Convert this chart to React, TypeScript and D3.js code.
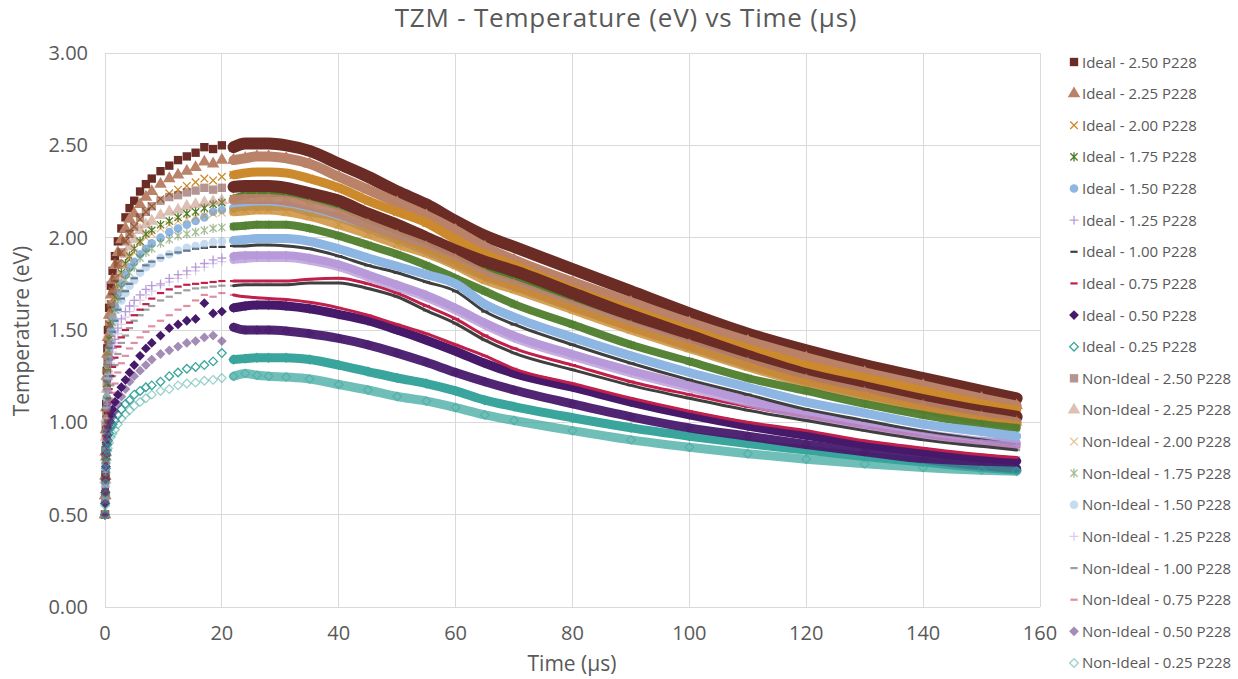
import React, { useEffect, useRef } from 'react';
import * as d3 from 'd3';

// Time grid (µs) shared by every series
const TIME = [0, 0.03, 0.06, 0.1, 0.15, 0.2, 0.3, 0.4, 0.5, 0.7, 1, 1.3, 1.7, 2.2, 2.8, 3.5, 4.2, 5, 6, 7, 8,
  9.5, 11, 12.5, 14, 15.5, 17, 18.5, 20, 22, 24, 26, 28,
  31, 35, 40, 45, 50, 55, 60, 65, 70, 80, 90, 100, 110, 120, 130, 140, 150, 156];

const X_TICKS = [0, 20, 40, 60, 80, 100, 120, 140, 160];
const Y_TICKS = [0, 0.5, 1, 1.5, 2, 2.5, 3];

const SERIES_NAMES = [
  'Ideal - 2.50 P228', 'Ideal - 2.25 P228', 'Ideal - 2.00 P228', 'Ideal - 1.75 P228', 'Ideal - 1.50 P228',
  'Ideal - 1.25 P228', 'Ideal - 1.00 P228', 'Ideal - 0.75 P228', 'Ideal - 0.50 P228', 'Ideal - 0.25 P228',
  'Non-Ideal - 2.50 P228', 'Non-Ideal - 2.25 P228', 'Non-Ideal - 2.00 P228', 'Non-Ideal - 1.75 P228', 'Non-Ideal - 1.50 P228',
  'Non-Ideal - 1.25 P228', 'Non-Ideal - 1.00 P228', 'Non-Ideal - 0.75 P228', 'Non-Ideal - 0.50 P228', 'Non-Ideal - 0.25 P228',
];

const I250 = [0.50, 0.61, 0.72, 0.85, 0.98, 1.10, 1.28, 1.40, 1.50, 1.62, 1.74, 1.82, 1.90, 1.98, 2.05, 2.11, 2.16, 2.20, 2.25, 2.29, 2.32,
  2.36, 2.39, 2.42, 2.44, 2.46, 2.49, 2.48, 2.50, 2.49, 2.51, 2.51, 2.51,
  2.50, 2.47, 2.40, 2.33, 2.25, 2.18, 2.09, 2.01, 1.95, 1.83, 1.71, 1.59, 1.48, 1.39, 1.31, 1.24, 1.17, 1.13];
const I225 = [0.50, 0.605, 0.71, 0.84, 0.96, 1.08, 1.25, 1.37, 1.46, 1.58, 1.69, 1.77, 1.85, 1.92, 1.99, 2.05, 2.10, 2.13, 2.18, 2.22, 2.25,
  2.29, 2.32, 2.34, 2.36, 2.38, 2.41, 2.40, 2.42, 2.42, 2.43, 2.44, 2.44,
  2.43, 2.40, 2.33, 2.26, 2.19, 2.12, 2.04, 1.95, 1.88, 1.76, 1.65, 1.54, 1.44, 1.35, 1.27, 1.20, 1.13, 1.09];
const I200 = [0.50, 0.60, 0.70, 0.82, 0.94, 1.05, 1.21, 1.33, 1.42, 1.53, 1.64, 1.71, 1.78, 1.86, 1.92, 1.98, 2.02, 2.06, 2.10, 2.14, 2.17,
  2.21, 2.24, 2.26, 2.28, 2.30, 2.32, 2.31, 2.33, 2.34, 2.35, 2.355, 2.355,
  2.35, 2.32, 2.27, 2.20, 2.14, 2.08, 1.99, 1.91, 1.85, 1.72, 1.61, 1.50, 1.40, 1.31, 1.24, 1.17, 1.10, 1.065];
const I175 = [0.50, 0.59, 0.69, 0.80, 0.91, 1.01, 1.16, 1.26, 1.35, 1.45, 1.55, 1.62, 1.68, 1.75, 1.81, 1.86, 1.90, 1.94, 1.98, 2.02, 2.04,
  2.07, 2.09, 2.11, 2.13, 2.14, 2.16, 2.18, 2.19, 2.21, 2.23, 2.24, 2.24,
  2.24, 2.21, 2.17, 2.10, 2.04, 1.97, 1.90, 1.835, 1.78, 1.665, 1.55, 1.44, 1.335, 1.24, 1.17, 1.10, 1.04, 1.01];
const I150 = [0.50, 0.59, 0.68, 0.78, 0.89, 0.99, 1.13, 1.23, 1.31, 1.40, 1.50, 1.57, 1.63, 1.70, 1.75, 1.80, 1.84, 1.87, 1.91, 1.94, 1.97,
  2.00, 2.03, 2.05, 2.07, 2.09, 2.11, 2.14, 2.15, 2.16, 2.17, 2.17, 2.17,
  2.17, 2.14, 2.11, 2.05, 1.99, 1.93, 1.86, 1.79, 1.735, 1.625, 1.515, 1.41, 1.31, 1.22, 1.15, 1.085, 1.03, 1.00];
const I125 = [0.50, 0.57, 0.65, 0.74, 0.83, 0.91, 1.03, 1.11, 1.18, 1.26, 1.34, 1.40, 1.45, 1.51, 1.56, 1.60, 1.63, 1.66, 1.69, 1.72, 1.74,
  1.75, 1.78, 1.80, 1.82, 1.84, 1.86, 1.88, 1.89, 1.90, 1.905, 1.905, 1.905,
  1.905, 1.89, 1.855, 1.80, 1.745, 1.69, 1.62, 1.54, 1.47, 1.37, 1.28, 1.20, 1.12, 1.05, 0.99, 0.94, 0.90, 0.89];
const I100 = [0.50, 0.58, 0.67, 0.76, 0.86, 0.95, 1.09, 1.18, 1.25, 1.34, 1.43, 1.49, 1.55, 1.61, 1.67, 1.71, 1.75, 1.78, 1.82, 1.85, 1.87,
  1.89, 1.91, 1.92, 1.93, 1.94, 1.945, 1.95, 1.95, 1.955, 1.955, 1.96, 1.96,
  1.955, 1.94, 1.90, 1.85, 1.81, 1.76, 1.71, 1.60, 1.53, 1.42, 1.32, 1.23, 1.15, 1.07, 1.01, 0.95, 0.905, 0.88];
const I075 = [0.50, 0.57, 0.64, 0.72, 0.81, 0.89, 0.98, 1.05, 1.10, 1.18, 1.25, 1.30, 1.35, 1.41, 1.46, 1.50, 1.54, 1.58, 1.61, 1.64, 1.67,
  1.70, 1.72, 1.735, 1.745, 1.75, 1.755, 1.76, 1.765, 1.765, 1.765, 1.765, 1.765,
  1.765, 1.775, 1.78, 1.75, 1.70, 1.63, 1.56, 1.47, 1.40, 1.31, 1.22, 1.15, 1.085, 1.03, 0.975, 0.925, 0.885, 0.865];
const I050 = [0.50, 0.56, 0.62, 0.69, 0.76, 0.82, 0.89, 0.93, 0.96, 1.00, 1.04, 1.07, 1.11, 1.15, 1.19, 1.23, 1.27, 1.31, 1.36, 1.40, 1.43,
  1.47, 1.51, 1.53, 1.55, 1.56, 1.645, 1.59, 1.60, 1.62, 1.63, 1.635, 1.635,
  1.63, 1.615, 1.585, 1.55, 1.50, 1.445, 1.385, 1.32, 1.265, 1.19, 1.11, 1.04, 0.98, 0.93, 0.88, 0.84, 0.805, 0.79];
const I025 = [0.50, 0.56, 0.62, 0.69, 0.75, 0.80, 0.85, 0.88, 0.90, 0.94, 0.97, 0.99, 1.01, 1.04, 1.07, 1.10, 1.12, 1.15, 1.17, 1.19, 1.20,
  1.22, 1.25, 1.27, 1.29, 1.30, 1.31, 1.33, 1.375, 1.34, 1.345, 1.35, 1.35,
  1.35, 1.34, 1.31, 1.275, 1.24, 1.21, 1.17, 1.12, 1.085, 1.025, 0.97, 0.925, 0.885, 0.85, 0.815, 0.785, 0.755, 0.74];

const N250 = [0.50, 0.60, 0.70, 0.82, 0.94, 1.05, 1.21, 1.33, 1.42, 1.53, 1.64, 1.71, 1.78, 1.86, 1.92, 1.98, 2.02, 2.06, 2.11, 2.14, 2.17,
  2.20, 2.22, 2.23, 2.245, 2.255, 2.27, 2.26, 2.27, 2.275, 2.28, 2.28, 2.28,
  2.27, 2.24, 2.20, 2.13, 2.07, 2.00, 1.93, 1.87, 1.82, 1.70, 1.58, 1.47, 1.36, 1.26, 1.19, 1.12, 1.06, 1.03];
const N225 = [0.50, 0.60, 0.69, 0.81, 0.92, 1.02, 1.18, 1.29, 1.37, 1.48, 1.58, 1.65, 1.72, 1.79, 1.85, 1.91, 1.95, 1.99, 2.04, 2.07, 2.09,
  2.12, 2.14, 2.15, 2.17, 2.18, 2.19, 2.195, 2.20, 2.205, 2.21, 2.21, 2.21,
  2.20, 2.175, 2.13, 2.07, 2.01, 1.95, 1.88, 1.80, 1.745, 1.63, 1.52, 1.42, 1.32, 1.23, 1.16, 1.09, 1.03, 1.00];
const N200 = [0.50, 0.59, 0.68, 0.79, 0.90, 1.00, 1.15, 1.25, 1.33, 1.43, 1.54, 1.60, 1.67, 1.74, 1.80, 1.85, 1.89, 1.92, 1.97, 2.00, 2.02,
  2.05, 2.07, 2.09, 2.10, 2.11, 2.12, 2.13, 2.135, 2.14, 2.145, 2.15, 2.15,
  2.14, 2.115, 2.07, 2.02, 1.965, 1.915, 1.85, 1.77, 1.72, 1.61, 1.50, 1.40, 1.30, 1.21, 1.14, 1.07, 1.01, 0.985];
const N175 = [0.50, 0.59, 0.67, 0.78, 0.88, 0.98, 1.12, 1.21, 1.29, 1.39, 1.48, 1.54, 1.61, 1.67, 1.73, 1.77, 1.81, 1.84, 1.89, 1.92, 1.94,
  1.97, 1.99, 2.01, 2.02, 2.03, 2.04, 2.05, 2.055, 2.06, 2.065, 2.07, 2.07,
  2.07, 2.05, 2.01, 1.96, 1.91, 1.85, 1.78, 1.71, 1.64, 1.53, 1.42, 1.33, 1.24, 1.17, 1.10, 1.04, 0.99, 0.97];
const N150 = [0.50, 0.58, 0.66, 0.76, 0.86, 0.95, 1.08, 1.17, 1.25, 1.34, 1.43, 1.49, 1.55, 1.61, 1.66, 1.70, 1.74, 1.77, 1.81, 1.84, 1.86,
  1.89, 1.91, 1.93, 1.945, 1.955, 1.965, 1.975, 1.98, 1.985, 1.99, 1.995, 1.995,
  1.995, 1.98, 1.94, 1.89, 1.845, 1.80, 1.75, 1.64, 1.57, 1.46, 1.36, 1.27, 1.19, 1.11, 1.05, 0.99, 0.95, 0.925];
const N125 = [0.50, 0.57, 0.65, 0.73, 0.82, 0.90, 1.02, 1.10, 1.16, 1.24, 1.32, 1.38, 1.43, 1.48, 1.53, 1.57, 1.60, 1.63, 1.66, 1.69, 1.71,
  1.74, 1.76, 1.78, 1.80, 1.82, 1.84, 1.86, 1.87, 1.88, 1.885, 1.89, 1.89,
  1.89, 1.875, 1.84, 1.785, 1.73, 1.675, 1.605, 1.525, 1.455, 1.355, 1.265, 1.185, 1.105, 1.035, 0.975, 0.925, 0.885, 0.875];
const N100 = [0.50, 0.57, 0.64, 0.71, 0.80, 0.87, 0.95, 1.01, 1.05, 1.13, 1.20, 1.25, 1.31, 1.37, 1.43, 1.47, 1.51, 1.55, 1.58, 1.61, 1.63,
  1.66, 1.68, 1.70, 1.715, 1.725, 1.73, 1.735, 1.74, 1.74, 1.745, 1.745, 1.745,
  1.745, 1.755, 1.755, 1.725, 1.68, 1.605, 1.535, 1.445, 1.375, 1.285, 1.20, 1.13, 1.065, 1.01, 0.955, 0.905, 0.87, 0.85];
const N075 = [0.50, 0.56, 0.63, 0.70, 0.78, 0.85, 0.92, 0.97, 1.00, 1.06, 1.12, 1.16, 1.21, 1.27, 1.32, 1.36, 1.40, 1.43, 1.46, 1.49, 1.52,
  1.55, 1.58, 1.61, 1.63, 1.66, 1.69, 1.68, 1.70, 1.69, 1.68, 1.675, 1.67,
  1.665, 1.65, 1.62, 1.58, 1.53, 1.48, 1.42, 1.36, 1.29, 1.21, 1.13, 1.06, 1.00, 0.955, 0.90, 0.86, 0.825, 0.81];
const N050 = [0.50, 0.56, 0.62, 0.69, 0.76, 0.83, 0.88, 0.91, 0.93, 0.97, 1.00, 1.03, 1.06, 1.10, 1.14, 1.18, 1.22, 1.25, 1.28, 1.31, 1.34,
  1.37, 1.39, 1.41, 1.43, 1.44, 1.46, 1.47, 1.44, 1.515, 1.50, 1.50, 1.50,
  1.495, 1.48, 1.455, 1.42, 1.375, 1.325, 1.27, 1.22, 1.175, 1.10, 1.03, 0.97, 0.925, 0.88, 0.84, 0.80, 0.765, 0.75];
const N025 = [0.50, 0.55, 0.61, 0.67, 0.73, 0.78, 0.82, 0.845, 0.86, 0.89, 0.92, 0.94, 0.96, 0.99, 1.02, 1.045, 1.065, 1.09, 1.11, 1.13, 1.15,
  1.17, 1.18, 1.20, 1.21, 1.215, 1.225, 1.23, 1.24, 1.25, 1.265, 1.255, 1.25,
  1.245, 1.235, 1.205, 1.175, 1.14, 1.115, 1.08, 1.04, 1.01, 0.955, 0.905, 0.865, 0.83, 0.80, 0.775, 0.755, 0.74, 0.735];

const SERIES_VALUES = [I250, I225, I200, I175, I150, I125, I100, I075, I050, I025,
  N250, N225, N200, N175, N150, N125, N100, N075, N050, N025];

const COLORS = ['#6B2C25', '#B98269', '#CC8A2C', '#4E7D2C', '#8EB6E2', '#B89AD9', '#3F3F3F', '#C0204B', '#47196B', '#39A59C'];
const SHAPES = ['square', 'triangle', 'x', 'star', 'circle', 'plus', 'dash', 'dash', 'diamond', 'hollowDiamond'];
const BAND_W: Record<string, number> = { square: 12, triangle: 10, x: 9, star: 8, circle: 9, plus: 8, dash: 3, diamond: 9, hollowDiamond: 9 };
const NON_IDEAL_BAND_OPACITY: Record<string, number> = { square: 1, triangle: 0.92, x: 0.8, star: 0.95, circle: 1, plus: 0.8, dash: 1, diamond: 0.95, hollowDiamond: 0.72 };

const FONT = "'Open Sans', 'DejaVu Sans', sans-serif";
const TEXT = '#595959';

function markerSpec(shape: string, color: string) {
  switch (shape) {
    case 'square': return { d: d3.symbol(d3.symbolSquare, 70)() as string, fill: color, stroke: 'none', sw: 0 };
    case 'triangle': return { d: d3.symbol(d3.symbolTriangle, 68)() as string, fill: color, stroke: 'none', sw: 0 };
    case 'circle': return { d: d3.symbol(d3.symbolCircle, 58)() as string, fill: color, stroke: 'none', sw: 0 };
    case 'diamond': return { d: 'M0,-4.9L4.9,0L0,4.9L-4.9,0Z', fill: color, stroke: 'none', sw: 0 };
    case 'hollowDiamond': return { d: 'M0,-4.3L4.3,0L0,4.3L-4.3,0Z', fill: 'none', stroke: color, sw: 1.3 };
    case 'x': return { d: 'M-3.8,-3.8L3.8,3.8M-3.8,3.8L3.8,-3.8', fill: 'none', stroke: color, sw: 1.3 };
    case 'star': return { d: 'M-3.6,-3.6L3.6,3.6M-3.6,3.6L3.6,-3.6M0,-4.6V4.6', fill: 'none', stroke: color, sw: 1.3 };
    case 'plus': return { d: 'M-4.4,0H4.4M0,-4.4V4.4', fill: 'none', stroke: color, sw: 1.3 };
    default: return { d: 'M-3.6,0H3.6', fill: 'none', stroke: color, sw: 2.2 };
  }
}

export default function App() {
  const ref = useRef<SVGSVGElement>(null);

  useEffect(() => {
    const svg = d3.select(ref.current);
    svg.selectAll('*').remove();

    const x = d3.scaleLinear().domain([0, 160]).range([105, 1040]);
    const y = d3.scaleLinear().domain([0, 3]).range([607, 53]);

    svg.append('rect').attr('width', 1238).attr('height', 679).attr('fill', '#fff');

    // gridlines
    const grid = svg.append('g');
    grid.selectAll('line.h').data(Y_TICKS).join('line')
      .attr('x1', x(0)).attr('x2', x(160))
      .attr('y1', (d) => y(d)).attr('y2', (d) => y(d))
      .attr('stroke', '#D9D9D9').attr('stroke-width', 1).attr('shape-rendering', 'crispEdges');
    grid.selectAll('line.v').data(X_TICKS).join('line')
      .attr('y1', y(0)).attr('y2', y(3))
      .attr('x1', (d) => x(d)).attr('x2', (d) => x(d))
      .attr('stroke', '#D9D9D9').attr('stroke-width', 1).attr('shape-rendering', 'crispEdges');

    // tick labels
    svg.append('g').selectAll('text').data(Y_TICKS).join('text')
      .attr('x', 88).attr('y', (d) => y(d) + 7)
      .attr('text-anchor', 'end').attr('font-family', FONT).attr('font-size', 20).attr('fill', TEXT)
      .text((d) => d3.format('.2f')(d));
    svg.append('g').selectAll('text').data(X_TICKS).join('text')
      .attr('x', (d) => x(d)).attr('y', 640)
      .attr('text-anchor', 'middle').attr('font-family', FONT).attr('font-size', 20).attr('fill', TEXT)
      .text((d) => String(d));

    // axis titles & chart title
    svg.append('text').attr('x', 572).attr('y', 671).attr('text-anchor', 'middle')
      .attr('font-family', FONT).attr('font-size', 21).attr('fill', TEXT).text('Time (µs)');
    svg.append('text').attr('transform', 'translate(29,331) rotate(-90)').attr('text-anchor', 'middle')
      .attr('font-family', FONT).attr('font-size', 21).attr('fill', TEXT).text('Temperature (eV)');
    svg.append('text').attr('x', 626).attr('y', 27).attr('text-anchor', 'middle')
      .attr('font-family', FONT).attr('font-size', 26).attr('letter-spacing', 0.8).attr('fill', TEXT)
      .text('TZM - Temperature (eV) vs Time (µs)');

    // series: dense tail drawn as a band through the points, sparse rise as discrete markers
    const bandStart = TIME.indexOf(22);
    const line = d3.line<number>()
      .x((_, i) => x(TIME[i + bandStart]))
      .y((d) => y(d))
      .curve(d3.curveMonotoneX);

    const plot = svg.append('g');
    SERIES_VALUES.forEach((vals, s) => {
      const k = s % 10;
      const nonIdeal = s >= 10;
      const color = COLORS[k];
      const shape = SHAPES[k];
      const g = plot.append('g');
      g.append('path')
        .attr('d', line(vals.slice(bandStart)) as string)
        .attr('fill', 'none').attr('stroke', color)
        .attr('stroke-width', BAND_W[shape])
        .attr('stroke-linejoin', 'round').attr('stroke-linecap', 'round')
        .attr('opacity', nonIdeal ? NON_IDEAL_BAND_OPACITY[shape] : 1);
      const m = markerSpec(shape, color);
      g.selectAll('path.m').data(vals).join('path')
        .attr('class', 'm')
        .attr('d', m.d)
        .attr('transform', (d, i) => `translate(${x(TIME[i])},${y(d)})`)
        .attr('fill', m.fill).attr('stroke', m.stroke).attr('stroke-width', m.sw)
        .attr('opacity', nonIdeal ? 0.5 : 1);
    });

    // legend
    const leg = svg.append('g');
    SERIES_NAMES.forEach((name, s) => {
      const k = s % 10;
      const nonIdeal = s >= 10;
      const cy = 62 + s * 31.63;
      const m = markerSpec(SHAPES[k], COLORS[k]);
      leg.append('path').attr('d', m.d).attr('transform', `translate(1074,${cy})`)
        .attr('fill', m.fill).attr('stroke', m.stroke).attr('stroke-width', m.sw)
        .attr('opacity', nonIdeal ? 0.5 : 1);
      leg.append('text').attr('x', 1082).attr('y', cy + 5.5)
        .attr('font-family', FONT).attr('font-size', 15).attr('fill', TEXT).text(name);
    });
  }, []);

  return (
    <svg ref={ref} width={1238} height={679}
      style={{ position: 'absolute', left: 0, top: 0, display: 'block', background: '#fff' }} />
  );
}
